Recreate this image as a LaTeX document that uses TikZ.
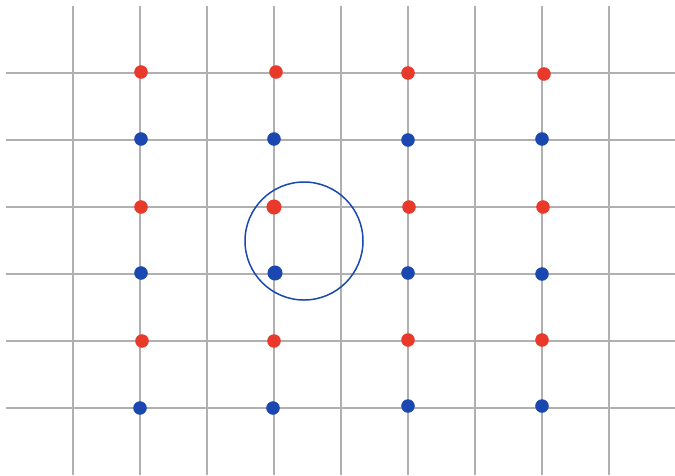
\documentclass[tikz,border=0pt]{standalone}
\definecolor{gridgray}{HTML}{B0B0B0}
\definecolor{dotred}{HTML}{E8392A}
\definecolor{dotblue}{HTML}{1A47B0}
\tikzset{
  gridline/.style={draw=gridgray, line width=1.4pt},
  reddot/.style={circle, fill=dotred, draw=dotred, line width=1pt, minimum size=12.5pt, inner sep=0pt},
  bluedot/.style={circle, fill=dotblue, draw=dotblue, line width=1pt, minimum size=12.5pt, inner sep=0pt},
  bigdot/.style={minimum size=14pt},
  ring/.style={draw=dotblue, line width=1.5pt}
}
\begin{document}
\begin{tikzpicture}[x=1pt,y=-1pt]
\useasboundingbox (0,0) rectangle (675,475);
% vertical grid lines
\foreach \gx in {73,140,207,274,341,408,475,542,609}
  \draw[gridline] (\gx,6) -- (\gx,475);
% horizontal grid lines
\foreach \gy in {73,140,207,274,341,408}
  \draw[gridline] (6,\gy) -- (675,\gy);
% dots
\node[reddot] (r11) at (141,72) {};
\node[reddot] (r12) at (276,72) {};
\node[reddot] (r13) at (408,73) {};
\node[reddot] (r14) at (544,74) {};
\node[bluedot] (b11) at (141,139) {};
\node[bluedot] (b12) at (274,139) {};
\node[bluedot] (b13) at (408,140) {};
\node[bluedot] (b14) at (542,139) {};
\node[reddot] (r21) at (141,207) {};
\node[reddot,bigdot] (r22) at (274,207) {};
\node[reddot] (r23) at (409,207) {};
\node[reddot] (r24) at (543,207) {};
\node[bluedot] (b21) at (141,273) {};
\node[bluedot,bigdot] (b22) at (275,273) {};
\node[bluedot] (b23) at (408,273) {};
\node[bluedot] (b24) at (542,274) {};
\node[reddot] (r31) at (142,341) {};
\node[reddot] (r32) at (274,341) {};
\node[reddot] (r33) at (408,340) {};
\node[reddot] (r34) at (542,340) {};
\node[bluedot] (b31) at (140,408) {};
\node[bluedot] (b32) at (273,408) {};
\node[bluedot] (b33) at (408,406) {};
\node[bluedot] (b34) at (542,406) {};
% circle
\node[ring, circle, minimum size=118pt, inner sep=0pt] (ring) at (304,241) {};
\end{tikzpicture}
\end{document}
